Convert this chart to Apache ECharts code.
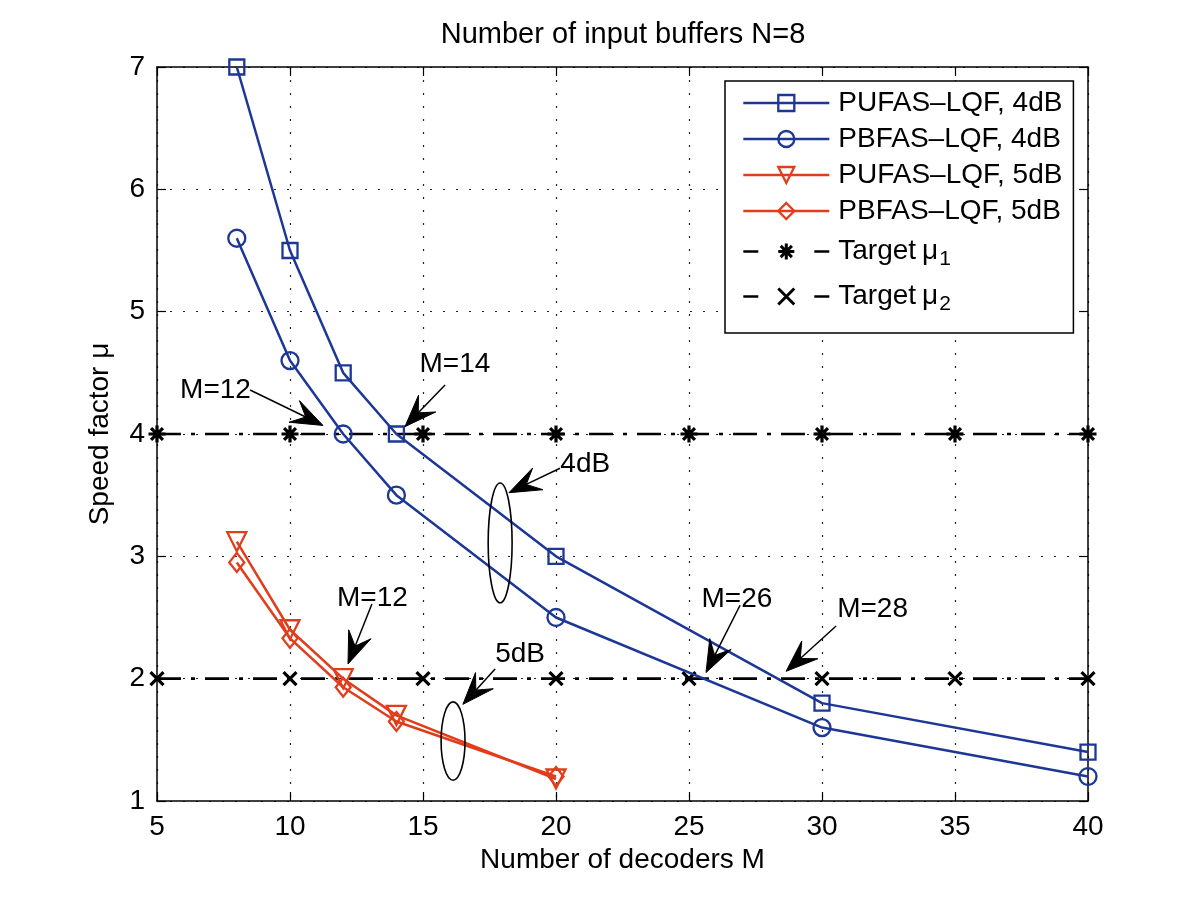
<!DOCTYPE html>
<html>
<head>
<meta charset="utf-8">
<script src="https://cdn.jsdelivr.net/npm/echarts@6/dist/echarts.min.js"></script>
<style>html,body{margin:0;padding:0;background:#fff}#c{width:1200px;height:903px}</style>
</head>
<body>
<div id="c"></div>
<script>
// ---- data ----
const decodersM4 = [8, 10, 12, 14, 20, 30, 40];
const pufas4dB = [7.0, 5.5, 4.5, 4.0, 3.0, 1.8, 1.4];
const pbfas4dB = [5.6, 4.6, 4.0, 3.5, 2.5, 1.6, 1.2];
const decodersM5 = [8, 10, 12, 14, 20];
const pufas5dB = [3.12, 2.4, 2.0, 1.7, 1.18];
const pbfas5dB = [2.95, 2.33, 1.93, 1.65, 1.2];
const targetM = [5, 10, 15, 20, 25, 30, 35, 40];
const targetMu1 = [4, 4, 4, 4, 4, 4, 4, 4];
const targetMu2 = [2, 2, 2, 2, 2, 2, 2, 2];
const seriesNames = ['PUFAS\u2013LQF, 4dB', 'PBFAS\u2013LQF, 4dB', 'PUFAS\u2013LQF, 5dB', 'PBFAS\u2013LQF, 5dB', 'Target mu1', 'Target mu2'];
const legendLabels = ['PUFAS\u2013LQF, 4dB', 'PBFAS\u2013LQF, 4dB', 'PUFAS\u2013LQF, 5dB', 'PBFAS\u2013LQF, 5dB', '{t|Target}{mu|\u03bc}{sub|1}', '{t|Target}{mu|\u03bc}{sub|2}'];
const titleText = 'Number of input buffers N=8';
const xName = 'Number of decoders M';
const yName = 'Speed factor \u03bc';

// annotations (data coordinates)
const annoTexts = [
  { text: 'M=12', at: [7.2, 4.36] },
  { text: 'M=14', at: [16.2, 4.57] },
  { text: '4dB', at: [21.1, 3.75] },
  { text: 'M=12', at: [13.1, 2.66] },
  { text: '5dB', at: [18.65, 2.2] },
  { text: 'M=26', at: [26.8, 2.65] },
  { text: 'M=28', at: [31.9, 2.57] }
];
const annoArrows = [
  { from: [8.5, 4.36], to: [11.24, 4.07] },
  { from: [15.83, 4.40], to: [14.32, 4.06] },
  { from: [20.15, 3.72], to: [18.23, 3.52] },
  { from: [13.08, 2.61], to: [12.18, 2.12] },
  { from: [17.71, 2.08], to: [16.5, 1.79] },
  { from: [26.92, 2.60], to: [25.64, 2.05] },
  { from: [30.53, 2.43], to: [28.65, 2.06] }
];
const annoEllipses = [
  { center: [17.9, 3.11], rx: 0.45, ry: 0.49 },
  { center: [16.13, 1.49], rx: 0.45, ry: 0.32 }
];

// ---- styles ----
const FONT = '"Liberation Sans", Arial, Helvetica, sans-serif';
const BLUE = '#1c3795';
const RED = '#e23d1a';
const DASHDOT = [24, 10, 4, 10];
const ASTERISK = 'path://M0,-10L0,10M-10,0L10,0M-7,-7L7,7M-7,7L7,-7';
const CROSS = 'path://M-7,-7L7,7M-7,7L7,-7';

const chart = echarts.init(document.getElementById('c'), null, { renderer: 'canvas' });

function zip(xs, ys) { return xs.map((x, i) => [x, ys[i]]); }

function dataSeries(name, xs, ys, color, symbol, size, rotate) {
  return {
    name, type: 'line', data: zip(xs, ys),
    symbol, symbolSize: size, symbolRotate: rotate || 0,
    showAllSymbol: true, clip: false,
    lineStyle: { color, width: 2.5 },
    itemStyle: { color: 'rgba(255,255,255,0)', borderColor: color, borderWidth: 2.3 },
    emphasis: { disabled: true },
    z: 3
  };
}
function targetSeries(name, ys, symbol, size) {
  return {
    name, type: 'line', data: zip(targetM, ys),
    symbol, symbolSize: size, symbolKeepAspect: true,
    showAllSymbol: true, clip: false,
    lineStyle: { color: '#000', width: 2.6, type: DASHDOT },
    itemStyle: { color: 'rgba(0,0,0,0)', borderColor: '#000', borderWidth: 3.2 },
    emphasis: { disabled: true },
    z: 2
  };
}

const axisCommon = {
  axisLine: { show: true, onZero: false, lineStyle: { color: '#000', width: 1.5 } },
  axisTick: { show: true, inside: true, length: 9, lineStyle: { color: '#000', width: 1.2 } },
  minorTick: { show: false }
};

const option = {
  animation: false,
  backgroundColor: '#fff',
  textStyle: { fontFamily: FONT },
  title: {
    text: titleText, left: 623, top: 20, textAlign: 'center', padding: 0,
    textStyle: { fontFamily: FONT, fontSize: 29, fontWeight: 'normal', color: '#000' }
  },
  grid: { left: 157, right: 112, top: 67, bottom: 102, containLabel: false },
  xAxis: [
    Object.assign({
      type: 'value', min: 5, max: 40, interval: 5, position: 'bottom',
      name: xName, nameLocation: 'middle', nameGap: 40,
      nameTextStyle: { fontFamily: FONT, fontSize: 28, color: '#000' },
      axisLabel: { margin: 12, fontFamily: FONT, fontSize: 28, color: '#000', showMinLabel: true, showMaxLabel: true },
      splitLine: { show: true, lineStyle: { color: '#222', width: 1.2, type: [2, 11] } }
    }, axisCommon),
    Object.assign({
      type: 'value', min: 5, max: 40, interval: 5, position: 'top',
      axisLabel: { show: false }, splitLine: { show: false }
    }, axisCommon)
  ],
  yAxis: [
    Object.assign({
      type: 'value', min: 1, max: 7, interval: 1, position: 'left',
      name: yName, nameLocation: 'middle', nameGap: 43,
      nameTextStyle: { fontFamily: FONT, fontSize: 28, color: '#000' },
      axisLabel: { margin: 12, fontFamily: FONT, fontSize: 28, color: '#000', showMinLabel: true, showMaxLabel: true },
      splitLine: { show: true, lineStyle: { color: '#222', width: 1.2, type: [2, 11] } }
    }, axisCommon),
    Object.assign({
      type: 'value', min: 1, max: 7, interval: 1, position: 'right',
      axisLabel: { show: false }, splitLine: { show: false }
    }, axisCommon)
  ],
  legend: {
    orient: 'vertical', left: 725, top: 81,
    backgroundColor: '#fff', borderColor: '#000', borderWidth: 1.5,
    padding: [8, 11, 18, 17],
    itemWidth: 86, itemHeight: 20, itemGap: 8,
    selectedMode: false,
    lineStyle: { width: 2.5 },
    itemStyle: { borderWidth: 2.3 },
    data: seriesNames.map((n, i) => i < 4 ? { name: n } :
      { name: n, lineStyle: { type: [15, 56], width: 2.6 }, itemStyle: { borderWidth: 3 } }),
    formatter: name => legendLabels[seriesNames.indexOf(name)],
    textStyle: {
      fontFamily: FONT, fontSize: 28, lineHeight: 28, color: '#000', padding: [0, 0, 0, 4],
      rich: {
        t: { fontFamily: FONT, fontSize: 28, lineHeight: 28, color: '#000' },
        mu: { fontFamily: FONT, fontSize: 28, lineHeight: 28, color: '#000', padding: [0, 0, 0, 6] },
        sub: { fontFamily: FONT, fontSize: 21, lineHeight: 20, color: '#000', padding: [16, 0, 0, 1] }
      }
    }
  },
  series: [
    dataSeries(seriesNames[0], decodersM4, pufas4dB, BLUE, 'rect', 15),
    dataSeries(seriesNames[1], decodersM4, pbfas4dB, BLUE, 'circle', 17),
    dataSeries(seriesNames[2], decodersM5, pufas5dB, RED, 'triangle', 19, 180),
    dataSeries(seriesNames[3], decodersM5, pbfas5dB, RED, 'diamond', [15, 19]),
    targetSeries(seriesNames[4], targetMu1, ASTERISK, 17),
    targetSeries(seriesNames[5], targetMu2, CROSS, 13)
  ]
};
chart.setOption(option);

// ---- annotations placed through the chart's own coordinate system ----
function px(p) { return chart.convertToPixel({ xAxisIndex: 0, yAxisIndex: 0 }, p); }
const graphics = [];
annoTexts.forEach(t => {
  const p = px(t.at);
  graphics.push({
    type: 'text', x: p[0], y: p[1], z: 10,
    style: { text: t.text, fontSize: 28, fontFamily: FONT, fill: '#000',
      align: 'center', verticalAlign: 'middle', textAlign: 'center', textVerticalAlign: 'middle' }
  });
});
annoArrows.forEach(a => {
  const p0 = px(a.from), p1 = px(a.to);
  const dx = p1[0] - p0[0], dy = p1[1] - p0[1];
  const len = Math.hypot(dx, dy), ux = dx / len, uy = dy / len, nx = -uy, ny = ux;
  const L = 32, W = 12, N = 0.6;
  const b1 = [p1[0] - L * ux + W * nx, p1[1] - L * uy + W * ny];
  const b2 = [p1[0] - L * ux - W * nx, p1[1] - L * uy - W * ny];
  const notch = [p1[0] - N * L * ux, p1[1] - N * L * uy];
  graphics.push({ type: 'line', z: 10, shape: { x1: p0[0], y1: p0[1], x2: notch[0], y2: notch[1] },
    style: { stroke: '#000', lineWidth: 1.5 } });
  graphics.push({ type: 'polygon', z: 10, shape: { points: [p1, b1, notch, b2] },
    style: { fill: '#000', stroke: '#000', lineWidth: 1 } });
});
annoEllipses.forEach(e => {
  const c = px(e.center);
  const cx2 = px([e.center[0] + e.rx, e.center[1]]);
  const cy2 = px([e.center[0], e.center[1] + e.ry]);
  graphics.push({ type: 'ellipse', z: 10,
    shape: { cx: c[0], cy: c[1], rx: Math.abs(cx2[0] - c[0]), ry: Math.abs(c[1] - cy2[1]) },
    style: { fill: 'none', stroke: '#000', lineWidth: 1.6 } });
});
chart.setOption({ graphic: graphics });
</script>
</body>
</html>
